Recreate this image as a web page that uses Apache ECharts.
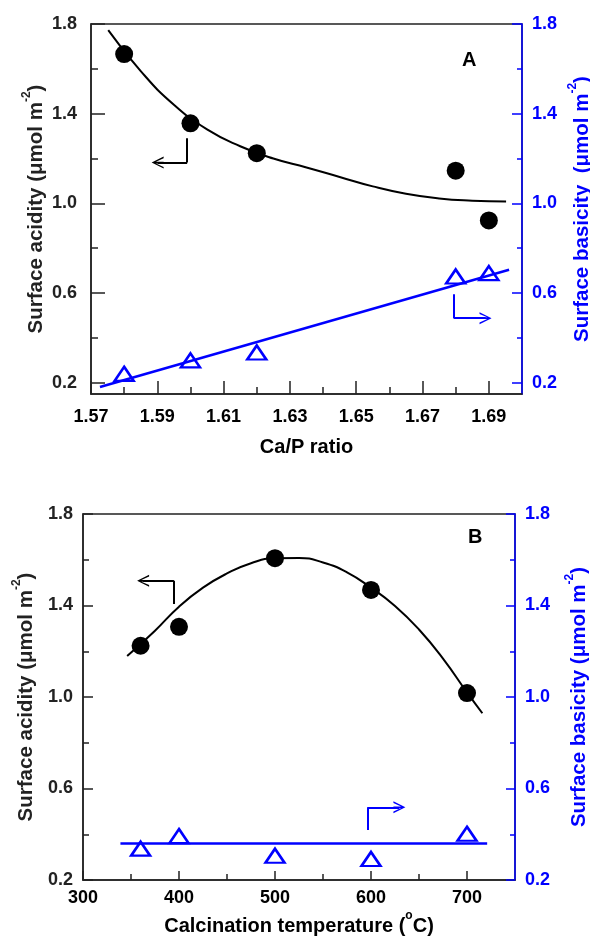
<!DOCTYPE html>
<html><head><meta charset="utf-8">
<script src="https://cdn.jsdelivr.net/npm/echarts@6/dist/echarts.min.js"></script>
<style>html,body{margin:0;padding:0;background:#fff}#c{width:590px;height:936px}</style>
</head><body><div id="c"></div>
<script>
// ---- Panel A data ----
const caP = [1.58, 1.60, 1.62, 1.68, 1.69];
const acidityA = [1.666, 1.357, 1.224, 1.146, 0.924];
const basicityA = [0.24, 0.30, 0.335, 0.674, 0.689];
const fitAcidAx = [1.5752, 1.585, 1.595, 1.605, 1.615, 1.625, 1.635, 1.645, 1.655, 1.665, 1.675, 1.685, 1.6952];
const fitAcidAy = [1.773, 1.59, 1.44, 1.33, 1.255, 1.20, 1.16, 1.118, 1.076, 1.043, 1.022, 1.012, 1.008];
const fitBasAx = [1.5727, 1.6961];
const fitBasAy = [0.181, 0.704];
const arrowAcidA = [[1.599, 1.291], [1.599, 1.182], [1.5901, 1.182]];
const arrowBasA = [[1.6794, 0.595], [1.6794, 0.488], [1.6890, 0.488]];
const xTicksA = [1.57, 1.59, 1.61, 1.63, 1.65, 1.67, 1.69];
const xMinorA = [1.58, 1.60, 1.62, 1.64, 1.66, 1.68];
// ---- Panel B data ----
const temps = [360, 400, 500, 600, 700];
const acidityB = [1.224, 1.307, 1.607, 1.468, 1.017];
const basicityB = [0.337, 0.392, 0.306, 0.292, 0.402];
const fitAcidBx = [346, 375, 400, 425, 450, 475, 500, 525, 550, 575, 600, 625, 650, 675, 700, 716];
const fitAcidBy = [1.179, 1.29, 1.395, 1.478, 1.54, 1.585, 1.607, 1.608, 1.588, 1.545, 1.478, 1.398, 1.295, 1.168, 1.02, 0.929];
const fitBasBx = [339, 721];
const fitBasBy = [0.36, 0.36];
const arrowAcidB = [[394.7, 1.407], [394.7, 1.508], [362.6, 1.508]];
const arrowBasB = [[596.5, 0.419], [596.5, 0.518], [629.6, 0.518]];
const xTicksB = [300, 400, 500, 600, 700];
const xMinorB = [350, 450, 550, 650];
// ---- shared y ticks ----
const yTicks = [0.2, 0.6, 1.0, 1.4, 1.8];
const yMinor = [0.4, 0.8, 1.2, 1.6];

const FF = "'Liberation Sans', Arial, sans-serif";
const BLK = '#000';
const AX = '#222';
const BLUE = '#0000ff';
const arrowPath = 'path://M5,0 L10,10 L8.6,10 L5.7,3.6 L5.7,10 L4.3,10 L4.3,3.6 L1.4,10 L0,10 Z';

function zip(a, b) { return a.map((v, i) => [v, b[i]]); }

function richName(color, size) {
  return {
    fontFamily: FF, fontWeight: 'bold', fontSize: size, color: color,
    rich: {
      n: {fontFamily: FF, fontWeight: 'bold', fontSize: size, color: color, lineHeight: 26, verticalAlign: 'bottom'},
      s: {fontFamily: FF, fontWeight: 'bold', fontSize: 12, color: color, lineHeight: 14, verticalAlign: 'top'}
    }
  };
}

function xMajor(grid, min, max, ticks, dec, len, name, gap, margin) {
  return {
    type: 'value', gridIndex: grid, position: 'bottom', min: min, max: max,
    splitLine: {show: false},
    axisLine: {show: true, onZero: false, lineStyle: {color: AX, width: 1.5}},
    axisTick: {show: true, inside: true, length: len, customValues: ticks, lineStyle: {color: AX, width: 1.5}},
    axisLabel: {show: true, customValues: ticks, margin: margin, fontFamily: FF, fontWeight: 'bold', fontSize: 18, color: BLK,
      formatter: v => (+v).toFixed(dec)},
    name: name, nameLocation: 'middle', nameGap: gap, nameMoveOverlap: false, nameTextStyle: richName(BLK, 20)
  };
}
function xMinorAxis(grid, min, max, ticks, len) {
  return {
    type: 'value', gridIndex: grid, position: 'bottom', min: min, max: max,
    splitLine: {show: false},
    axisLine: {show: false, onZero: false},
    axisTick: {show: true, inside: true, length: len, customValues: ticks, lineStyle: {color: AX, width: 1.5}},
    axisLabel: {show: false}
  };
}
function yMajor(grid, pos, min, color, len, name, gap, margin) {
  return {
    type: 'value', gridIndex: grid, position: pos, min: min, max: 1.8,
    splitLine: {show: false},
    axisLine: {show: true, onZero: false, lineStyle: {color: color, width: 1.5}},
    axisTick: {show: true, inside: true, length: len, customValues: yTicks, lineStyle: {color: color, width: 1.5}},
    axisLabel: {show: true, customValues: yTicks, margin: margin, fontFamily: FF, fontWeight: 'bold', fontSize: 18, color: color,
      formatter: v => (+v).toFixed(1)},
    name: name, nameLocation: 'middle', nameGap: gap, nameMoveOverlap: false, nameTextStyle: richName(color, 20.5)
  };
}
function yMinorAxis(grid, pos, min, color, len) {
  return {
    type: 'value', gridIndex: grid, position: pos, min: min, max: 1.8,
    splitLine: {show: false},
    axisLine: {show: false, onZero: false},
    axisTick: {show: true, inside: true, length: len, customValues: yMinor, lineStyle: {color: color, width: 1.5}},
    axisLabel: {show: false}
  };
}

function arrowSeries(pts, xi, yi, color) {
  return {
    type: 'lines', coordinateSystem: 'cartesian2d', xAxisIndex: xi, yAxisIndex: yi, z: 5,
    silent: true,
    lineStyle: {color: color, width: 2, opacity: 1, curveness: 0},
    data: [
      {coords: [pts[0], pts[1]], symbol: ['none', 'none']},
      {coords: [pts[1], pts[2]], symbol: ['none', arrowPath], symbolSize: [13, 12]}
    ]
  };
}

const acidName = '{n|Surface acidity (μmol m}{s|-2}{n|)}';
const basNameA = '{n|Surface basicity  (μmol m}{s|-2}{n|)}';
const basNameB = '{n|Surface basicity (μmol m}{s|-2}{n|)}';

const option = {
  animation: false,
  backgroundColor: '#fff',
  grid: [
    {left: 91, top: 24, width: 431, height: 370, show: true, borderColor: AX, borderWidth: 1.5, backgroundColor: 'transparent', containLabel: false, outerBoundsMode: 'none'},
    {left: 83, top: 514, width: 432, height: 366, show: true, borderColor: AX, borderWidth: 1.5, backgroundColor: 'transparent', containLabel: false, outerBoundsMode: 'none'}
  ],
  xAxis: [
    xMajor(0, 1.57, 1.70, xTicksA, 2, 13, '{n|Ca/P ratio}', 37, 14),
    xMinorAxis(0, 1.57, 1.70, xMinorA, 7),
    xMajor(1, 300, 750, xTicksB, 0, 9, '{n|Calcination temperature (}{s|o}{n|C)}', 30, 9),
    xMinorAxis(1, 300, 750, xMinorB, 6)
  ],
  yAxis: [
    yMajor(0, 'left', 0.15, AX, 14, acidName, 44, 14),
    yMinorAxis(0, 'left', 0.15, AX, 7),
    yMajor(0, 'right', 0.15, BLUE, 10, basNameA, 45, 10),
    yMinorAxis(0, 'right', 0.15, BLUE, 5),
    yMajor(1, 'left', 0.2, AX, 10, acidName, 46, 10),
    yMinorAxis(1, 'left', 0.2, AX, 6),
    yMajor(1, 'right', 0.2, BLUE, 9, basNameB, 49, 10),
    yMinorAxis(1, 'right', 0.2, BLUE, 5)
  ],
  series: [
    {type: 'line', xAxisIndex: 0, yAxisIndex: 0, smooth: 0.5, showSymbol: false, symbol: 'none', z: 3,
      lineStyle: {color: BLK, width: 2}, data: zip(fitAcidAx, fitAcidAy)},
    {type: 'line', xAxisIndex: 0, yAxisIndex: 2, showSymbol: false, symbol: 'none', z: 3,
      lineStyle: {color: BLUE, width: 2.5}, data: zip(fitBasAx, fitBasAy)},
    {type: 'scatter', xAxisIndex: 0, yAxisIndex: 0, symbol: 'circle', symbolSize: 18, z: 4,
      itemStyle: {color: BLK, opacity: 1}, data: zip(caP, acidityA)},
    {type: 'scatter', xAxisIndex: 0, yAxisIndex: 2, symbol: 'triangle', symbolSize: [19, 14], z: 4,
      itemStyle: {color: 'rgba(0,0,0,0)', borderColor: BLUE, borderWidth: 2.5, opacity: 1}, data: zip(caP, basicityA)},
    arrowSeries(arrowAcidA, 0, 0, BLK),
    arrowSeries(arrowBasA, 0, 2, BLUE),

    {type: 'line', xAxisIndex: 2, yAxisIndex: 4, smooth: 0.5, showSymbol: false, symbol: 'none', z: 3,
      lineStyle: {color: BLK, width: 2}, data: zip(fitAcidBx, fitAcidBy)},
    {type: 'line', xAxisIndex: 2, yAxisIndex: 6, showSymbol: false, symbol: 'none', z: 3,
      lineStyle: {color: BLUE, width: 2.5}, data: zip(fitBasBx, fitBasBy)},
    {type: 'scatter', xAxisIndex: 2, yAxisIndex: 4, symbol: 'circle', symbolSize: 18, z: 4,
      itemStyle: {color: BLK, opacity: 1}, data: zip(temps, acidityB)},
    {type: 'scatter', xAxisIndex: 2, yAxisIndex: 6, symbol: 'triangle', symbolSize: [19, 14], z: 4,
      itemStyle: {color: 'rgba(0,0,0,0)', borderColor: BLUE, borderWidth: 2.5, opacity: 1}, data: zip(temps, basicityB)},
    arrowSeries(arrowAcidB, 2, 4, BLK),
    arrowSeries(arrowBasB, 2, 6, BLUE)
  ],
  graphic: [
    {type: 'text', left: 462, top: 50, style: {text: 'A', font: "bold 20px 'Liberation Sans', Arial, sans-serif", fill: BLK}},
    {type: 'text', left: 468, top: 527, style: {text: 'B', font: "bold 20px 'Liberation Sans', Arial, sans-serif", fill: BLK}}
  ]
};

const chart = echarts.init(document.getElementById('c'), null, {renderer: 'canvas'});
chart.setOption(option);
</script>
</body></html>
